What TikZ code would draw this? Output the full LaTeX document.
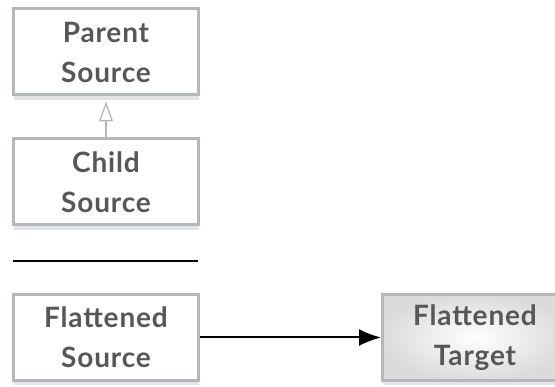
\documentclass[tikz,border=0pt]{standalone}
\usepackage{fontspec}
\setmainfont{Lato}[LetterSpace=3]
\usetikzlibrary{arrows.meta,shadows}
\definecolor{boxline}{HTML}{B4B8BC}
\definecolor{boxtext}{HTML}{555759}
\definecolor{boxshade}{HTML}{E2E4E6}
\tikzset{
  classbox/.style={draw=boxline,line width=3pt,fill=white,align=center,
    minimum width=185pt,minimum height=86pt,inner sep=0pt,text=boxtext,
    font=\fontsize{28}{40}\selectfont\bfseries,
    drop shadow={shadow xshift=0pt,shadow yshift=-5pt,fill=boxshade,opacity=1}}
}
\begin{document}
\begin{tikzpicture}[x=1pt,y=-1pt]
  \useasboundingbox (0,0) rectangle (555,387);
  \node [classbox] (parent) at (106,52) {Parent\\Source};
  \node [classbox] (child) at (106,182) {Child\\Source};
  \draw [boxline,line width=1.3pt,-{Triangle[open,length=20pt,width=14pt]}]
   (child.north) -- ([yshift=-5pt]parent.south);
  \coordinate (rulea) at (13,261);
  \coordinate (ruleb) at (198,261);
  \draw [line width=2pt] (rulea) -- (ruleb);
  \node [classbox] (flatsrc) at (106,337.5) {Flattened\\Source};
  \node [classbox,inner color=white,outer color=gray!28] (flattgt) at (475,337.5)
   {Flattened\\Target};
  \draw [line width=2pt,-{Latex[length=22pt,width=17pt]}] (flatsrc.east) -- (flattgt.west);
\end{tikzpicture}
\end{document}
